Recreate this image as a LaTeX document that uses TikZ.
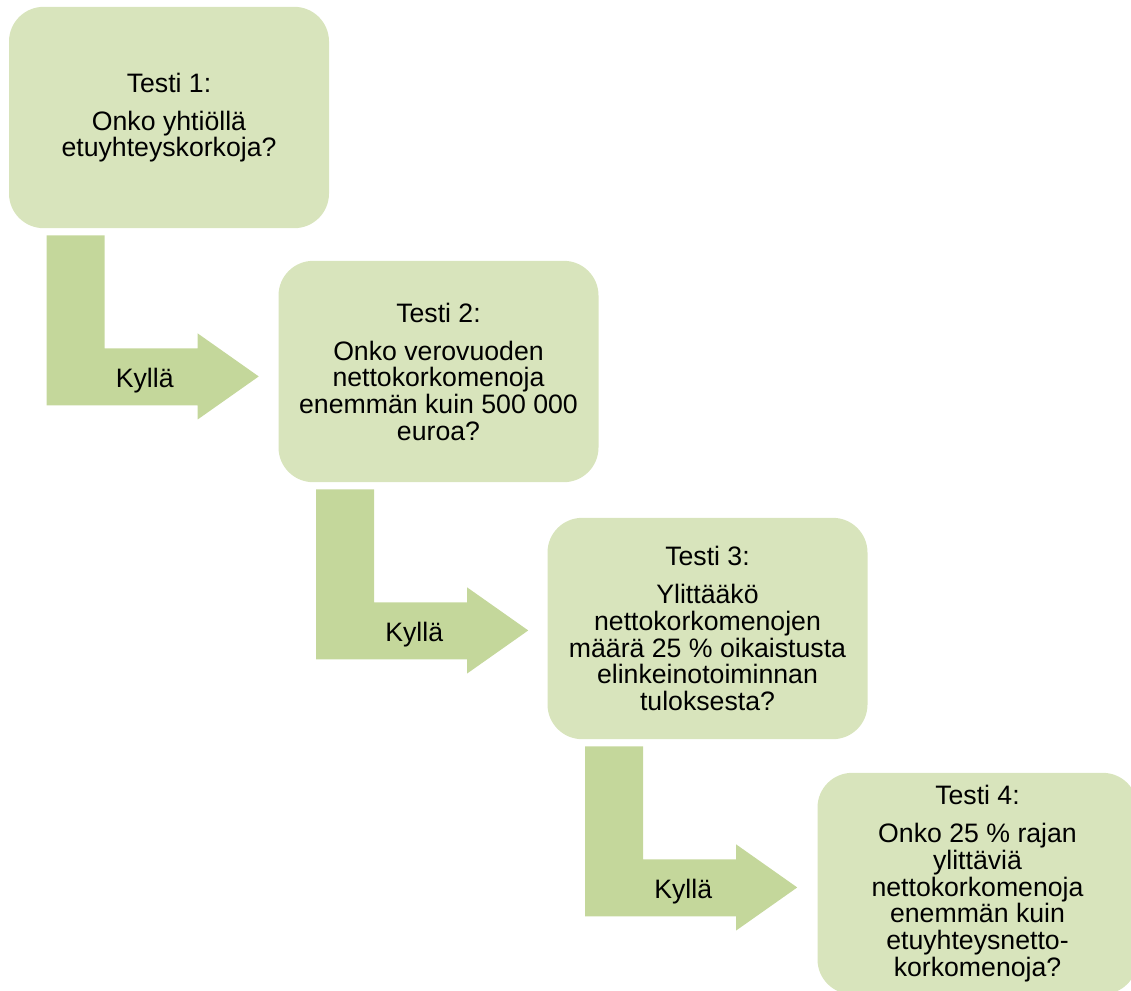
\documentclass[tikz,border=0pt]{standalone}
\usepackage{fontspec}
\setmainfont{Liberation Sans}
\usepackage{tikz}
\usetikzlibrary{positioning,calc}
\definecolor{boxgreen}{HTML}{D8E4BC}
\definecolor{arrowgreen}{HTML}{C4D79B}
% bent arrow below a test box, #1 = box name, #2 = label name
\newcommand{\kyllaarrow}[2]{%
  \begin{scope}[shift={(#1.south west)}]
    \fill[arrowgreen] (38,7) -- (96,7) -- (96,120) -- (189,120) -- (189,105)
      -- (250,148) -- (189,191) -- (189,177) -- (38,177) -- cycle;
    \node[yes] (#2) at (136,152) {Kyllä};
  \end{scope}}

\begin{document}
\begin{tikzpicture}[
    x=0.75pt, y=-0.75pt,
    test/.style={fill=boxgreen, rounded corners=26pt, minimum width=240pt, minimum height=166pt, align=center, font=\fontsize{20}{20}\selectfont},
    yes/.style={font=\fontsize{20}{20}\selectfont, inner sep=0pt},
]
\useasboundingbox (0,0) rectangle (1131,990);
\clip (0,0) rectangle (1131,990);

\node[test] (T1) at (169,117.5) {Testi 1:\\[8.5pt]Onko yhtiöllä\\etuyhteyskorkoja?};
\node[test] (T2) at (438.5,371.5) {Testi 2:\\[8.5pt]Onko verovuoden\\nettokorkomenoja\\enemmän kuin 500 000\\euroa?};
\node[test] (T3) at (707.5,628.5) {Testi 3:\\[8.5pt]Ylittääkö\\nettokorkomenojen\\määrä 25 \% oikaistusta\\elinkeinotoiminnan\\tuloksesta?};
\node[test] (T4) at (977.5,883.5) {Testi 4:\\[8.5pt]Onko 25 \% rajan\\ylittäviä\\nettokorkomenoja\\enemmän kuin\\etuyhteysnetto-\\korkomenoja?};

\kyllaarrow{T1}{Y1}
\kyllaarrow{T2}{Y2}
\kyllaarrow{T3}{Y3}
\end{tikzpicture}
\end{document}
